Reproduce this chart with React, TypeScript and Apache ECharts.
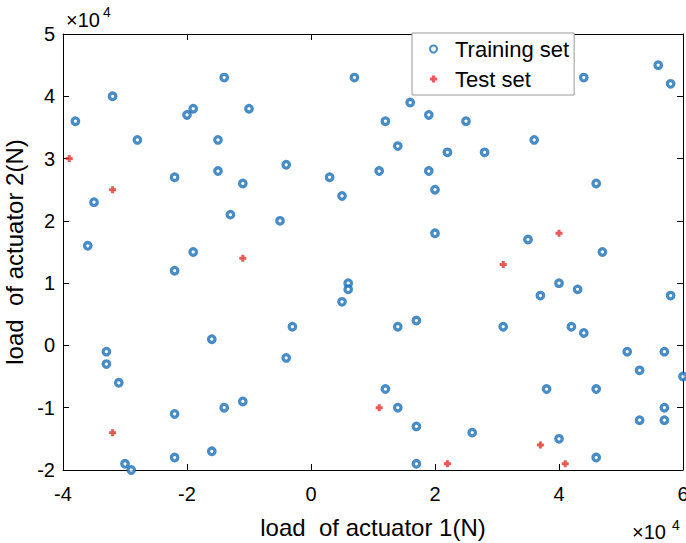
import React, { useEffect, useRef } from "react";
import * as echarts from "echarts";

const trainX = [
  -38000, -32000, -28000, -35000, -36000, -22000, -20000, -19000, -14000, -15000,
  -15000, -11000, -10000, -13000, -4000, -5000, -19000, -22000, 7000, 3000,
  5000, 12000, 14000, 16000, 19000, 25000, 22000, 28000, 19000, 20000,
  11000, 36000, 44000, 56000, 58000, 46000, 20000, 35000, 47000, 6000,
  6000, 5000, 40000, 43000, 37000, 58000, -33000, -33000, -31000, -16000,
  -3000, -4000, -22000, -14000, -11000, -22000, -16000, -30000, -29000, 14000,
  17000, 31000, 42000, 44000, 51000, 57000, 53000, 60000, 12000, 38000,
  46000, 14000, 57000, 53000, 57000, 17000, 26000, 40000, 46000, 17000,
];
const trainY = [
  36000, 40000, 33000, 23000, 16000, 27000, 37000, 38000, 43000, 33000,
  28000, 26000, 38000, 21000, 29000, 20000, 15000, 12000, 43000, 27000,
  24000, 36000, 32000, 39000, 37000, 36000, 31000, 31000, 28000, 25000,
  28000, 33000, 43000, 45000, 42000, 26000, 18000, 17000, 15000, 10000,
  9000, 7000, 10000, 9000, 8000, 8000, -1000, -3000, -6000, 1000,
  3000, -2000, -11000, -10000, -9000, -18000, -17000, -19000, -20000, 3000,
  4000, 3000, 3000, 2000, -1000, -1000, -4000, -5000, -7000, -7000,
  -7000, -10000, -10000, -12000, -12000, -13000, -14000, -15000, -18000, -19000,
];
const testX = [-39000, -32000, -11000, 40000, 31000, 11000, -32000, 37000, 22000, 41000];
const testY = [30000, 25000, 14000, 18000, 13000, -10000, -14000, -16000, -19000, -19000];

const xTicks = { min: -40000, max: 60000, interval: 20000 };
const yTicks = { min: -20000, max: 50000, interval: 10000 };

const seriesNames = ["Training set", "Test set"];
const xName = "load  of actuator 1(N)";
const yName = "load  of actuator 2(N)";
const exponentText = "×10";
const exponentPower = "4";

const FONT = "'Liberation Sans', Arial, sans-serif";
const BLUE = "#1a6fb8";
const RED = "#e5302a";
const PLUS = "path://M2,0H5V2H7V5H5V7H2V5H0V2H2Z";

export default function App() {
  const ref = useRef<HTMLDivElement>(null);
  useEffect(() => {
    if (!ref.current) return;
    const chart = echarts.init(ref.current, null, { renderer: "svg" });
    const fmt = (v: number) => String(v / 10000);
    const axisCommon = {
      axisLine: { show: true, onZero: false, lineStyle: { color: "#000", width: 1 } },
      axisTick: { show: true, inside: true, length: 6, lineStyle: { color: "#000" } },
      splitLine: { show: false },
    };
    chart.setOption({
      animation: false,
      backgroundColor: "#fff",
      grid: { left: 63, right: 3, top: 34, bottom: 73, show: false, outerBoundsMode: "none", containLabel: false },
      legend: {
        left: 412,
        top: 33,
        orient: "vertical",
        data: seriesNames,
        itemWidth: 7,
        itemHeight: 7,
        itemGap: 4,
        padding: [3, 5, 3, 17],
        borderColor: "#999",
        borderWidth: 1,
        backgroundColor: "#fff",
        textStyle: {
          fontFamily: FONT,
          fontSize: 22,
          color: "#000",
          lineHeight: 26,
          padding: [0, 0, 0, 13],
        },
      },
      xAxis: [
        {
          type: "value",
          position: "bottom",
          ...xTicks,
          ...axisCommon,
          axisLabel: { formatter: fmt, fontFamily: FONT, fontSize: 20, color: "#000", margin: 14 },
          name: xName,
          nameLocation: "middle",
          nameGap: 45,
          nameTextStyle: { fontFamily: FONT, fontSize: 24, color: "#000" },
        },
        {
          type: "value",
          position: "top",
          ...xTicks,
          ...axisCommon,
          axisLabel: { show: false },
        },
      ],
      yAxis: [
        {
          type: "value",
          position: "left",
          ...yTicks,
          ...axisCommon,
          axisLabel: { formatter: fmt, fontFamily: FONT, fontSize: 20, color: "#000", margin: 8 },
          name: yName,
          nameLocation: "middle",
          nameGap: 32,
          nameTextStyle: { fontFamily: FONT, fontSize: 24, color: "#000" },
        },
        {
          type: "value",
          position: "right",
          ...yTicks,
          ...axisCommon,
          axisLabel: { show: false },
        },
      ],
      series: [
        {
          name: seriesNames[0],
          type: "scatter",
          clip: false,
          symbol: "circle",
          symbolSize: 6.5,
          itemStyle: { color: "#fff", borderColor: BLUE, borderWidth: 3.3 },
          data: trainX.map((x, i) => [x, trainY[i]]),
        },
        {
          name: seriesNames[1],
          type: "scatter",
          clip: false,
          symbol: PLUS,
          symbolSize: 7,
          itemStyle: { color: RED },
          data: testX.map((x, i) => [x, testY[i]]),
        },
      ],
      graphic: [
        {
          type: "text",
          x: 66,
          y: 20,
          style: { text: exponentText, font: `20px ${FONT}`, fill: "#000", verticalAlign: "middle" },
        },
        {
          type: "text",
          x: 103,
          y: 12,
          style: { text: exponentPower, font: `14px ${FONT}`, fill: "#000", verticalAlign: "middle" },
        },
        {
          type: "text",
          x: 632,
          y: 532,
          style: { text: exponentText, font: `20px ${FONT}`, fill: "#000", verticalAlign: "middle" },
        },
        {
          type: "text",
          x: 672,
          y: 525,
          style: { text: exponentPower, font: `14px ${FONT}`, fill: "#000", verticalAlign: "middle" },
        },
      ],
    });
    return () => chart.dispose();
  }, []);
  return (
    <div
      ref={ref}
      style={{ position: "fixed", left: 0, top: 0, width: 686, height: 543, background: "#fff" }}
    />
  );
}
